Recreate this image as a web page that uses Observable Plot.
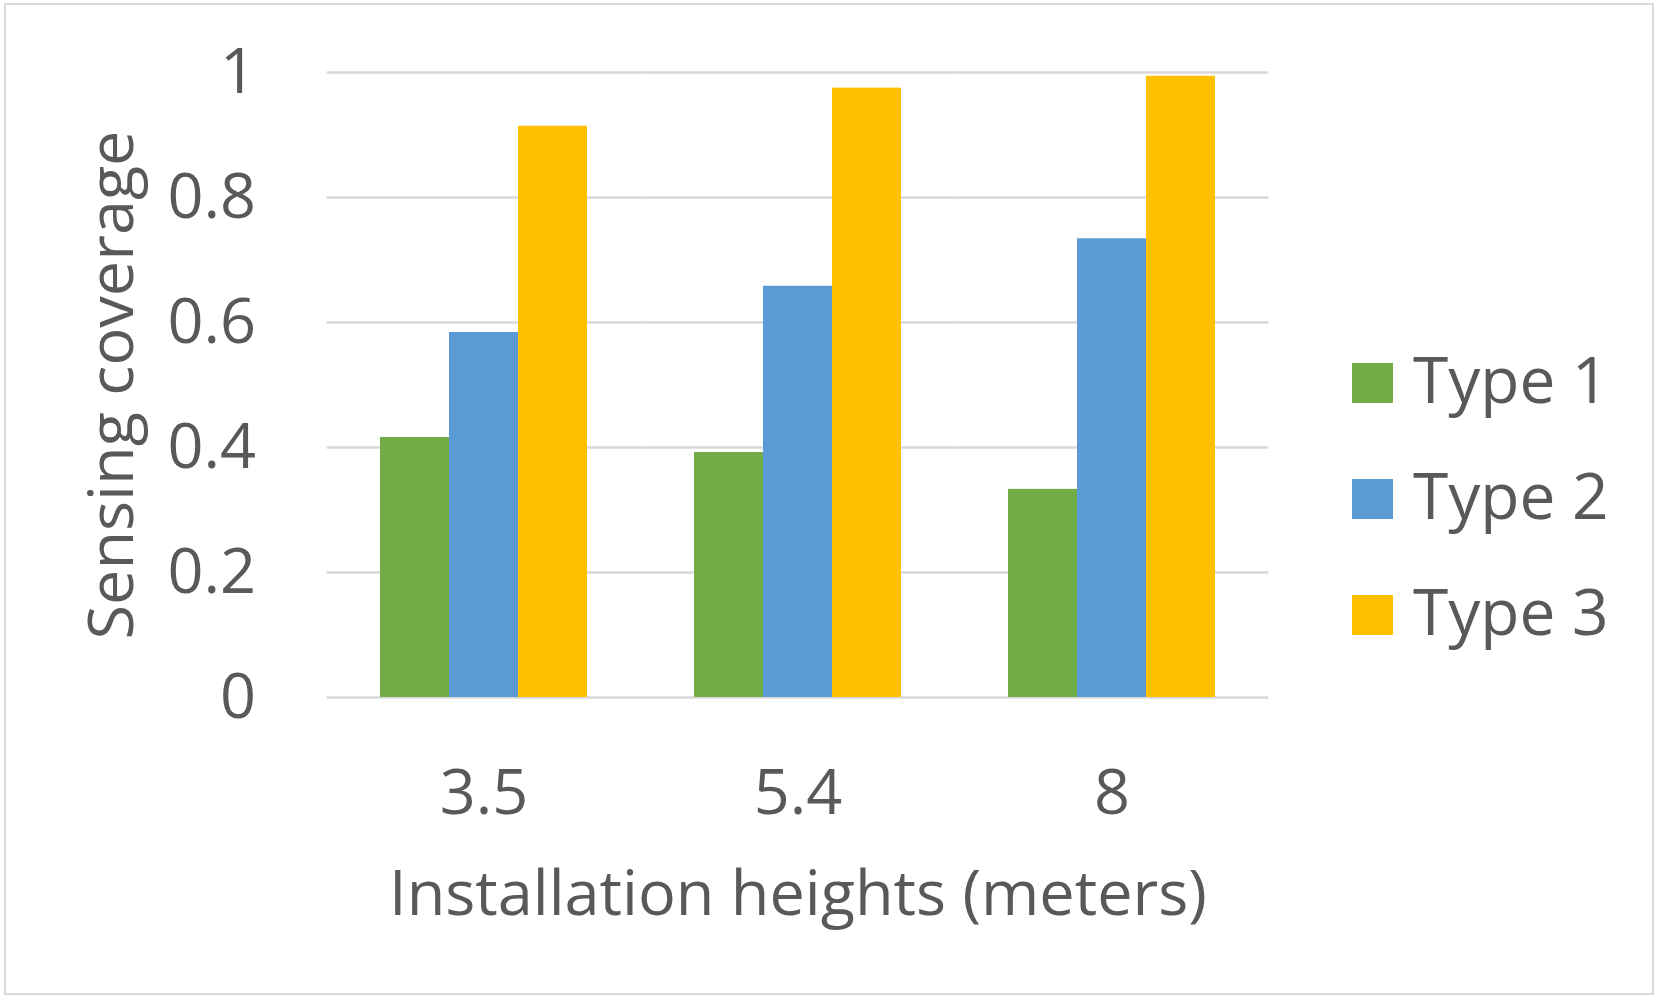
<!DOCTYPE html>
<html>
<head>
<meta charset="utf-8">
<script src="https://cdn.jsdelivr.net/npm/d3@7"></script>
<script src="https://cdn.jsdelivr.net/npm/@observablehq/plot@0.6"></script>
<style>
  body { margin: 0; background: #fff; }
  #wrap { position: relative; width: 1663px; height: 1003px; overflow: hidden; }
  #border { position: absolute; left: 4px; top: 3px; width: 1646px; height: 988px; border: 2px solid #d9d9d9; box-sizing: content-box; }
  #chart { position: absolute; left: 0; top: 0; }
  #legend { position: absolute; left: 1352px; top: 363px; font-family: "Open Sans", sans-serif; font-size: 64px; color: #595959; }
  .item { position: relative; height: 40px; margin-bottom: 76px; }
  .sw { position: absolute; left: 0; top: 0; width: 41px; height: 40px; }
  .lab { position: absolute; left: 61px; top: -4px; line-height: 40px; white-space: nowrap; }
</style>
</head>
<body>
<div id="wrap">
  <div id="border"></div>
  <div id="chart"></div>
  <div id="legend"></div>
</div>
<script>
const heights = ["3.5", "5.4", "8"];
const types = ["Type 1", "Type 2", "Type 3"];
const type1 = [0.416, 0.392, 0.333];
const type2 = [0.584, 0.658, 0.734];
const type3 = [0.914, 0.975, 0.994];
const colors = ["#70AD47", "#5B9BD5", "#FFC000"];
const yTicks = [0, 0.2, 0.4, 0.6, 0.8, 1];

const series = [type1, type2, type3];
const data = [];
heights.forEach((h, i) => {
  types.forEach((t, j) => data.push({height: h, type: t, value: series[j][i]}));
});

const plotW = 1663 - 326 - 393;
const halfGap = (plotW / 3) * (1 / 3) / 2;

const chart = Plot.plot({
  width: 1663,
  height: 1003,
  marginLeft: 326,
  marginRight: 393,
  marginTop: 72,
  marginBottom: 306,
  style: {fontFamily: "Open Sans, sans-serif", fontSize: "63px", color: "#595959", background: "transparent", overflow: "visible"},
  fx: {domain: heights, paddingInner: 1/3, paddingOuter: 1/6, axis: "bottom", tickSize: 0, tickPadding: 72,
       label: "Installation heights (meters)", labelAnchor: "center", labelOffset: 217, labelArrow: "none"},
  x: {domain: types, padding: 0, axis: null},
  y: {domain: [0, 1], ticks: yTicks, tickFormat: d => String(d), tickSize: 0, tickPadding: 71 + halfGap,
      label: "Sensing coverage", labelAnchor: "center", labelOffset: 239 + halfGap, labelArrow: "none"},
  color: {domain: types, range: colors},
  marks: [
    Plot.ruleY(yTicks, {stroke: "#d9d9d9", strokeWidth: 2.7, insetLeft: -halfGap, insetRight: -halfGap}),
    Plot.barY(data, {fx: "height", x: "type", y: "value", fill: "type"})
  ]
});
document.getElementById("chart").appendChild(chart);

const legend = document.getElementById("legend");
types.forEach((t, i) => {
  const item = document.createElement("div");
  item.className = "item";
  const sw = document.createElement("div");
  sw.className = "sw";
  sw.style.background = colors[i];
  const lab = document.createElement("div");
  lab.className = "lab";
  lab.textContent = t;
  item.appendChild(sw);
  item.appendChild(lab);
  legend.appendChild(item);
});
</script>
</body>
</html>
